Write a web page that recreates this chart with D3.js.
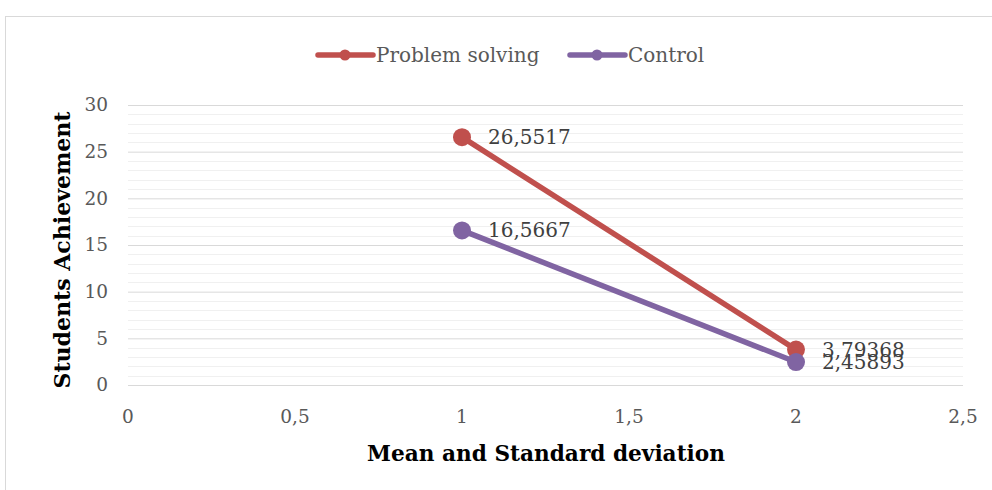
<!DOCTYPE html>
<html>
<head>
<meta charset="utf-8">
<script src="https://cdn.jsdelivr.net/npm/d3@7"></script>
<style>
  body { margin: 0; background: #fff; }
  svg text { font-family: "DejaVu Serif", serif; }
</style>
</head>
<body>
<div class="chart"></div>
<script>
const xValues = [1, 2];
const problemSolving = [26.5517, 3.79368];
const control = [16.5667, 2.45893];
const seriesNames = ['Problem solving', 'Control'];
const xTicks = [0, 0.5, 1, 1.5, 2, 2.5];
const yTicks = [0, 5, 10, 15, 20, 25, 30];

const w = 992;
const h = 490;
const padding = { top: 105, right: 29, bottom: 105, left: 128 };
const colors = ['#c0504d', '#8064a2'];
const fmt = (v) => String(v).replace('.', ',');

const xScale = d3.scaleLinear()
  .domain([0, 2.5])
  .range([padding.left, w - padding.right]);
const yScale = d3.scaleLinear()
  .domain([0, 30])
  .range([h - padding.bottom, padding.top]);

const svg = d3.select('.chart')
  .append('svg')
  .attr('width', w)
  .attr('height', h);

// chart border
svg.append('rect')
  .attr('x', 5.5)
  .attr('y', 16.5)
  .attr('width', 1000)
  .attr('height', 500)
  .attr('fill', 'none')
  .attr('stroke', '#d9d9d9');

// minor gridlines
svg.append('g')
  .selectAll('line')
  .data(d3.range(0, 31, 1).filter((d) => d % 5 !== 0))
  .enter()
  .append('line')
  .attr('x1', padding.left)
  .attr('x2', w - padding.right)
  .attr('y1', (d) => Math.round(yScale(d)) + 0.5)
  .attr('y2', (d) => Math.round(yScale(d)) + 0.5)
  .attr('stroke', '#f0f0f0');

// major gridlines
svg.append('g')
  .attr('transform', `translate(${padding.left}, 0)`)
  .call(d3.axisLeft(yScale).tickValues(yTicks).tickSize(-(w - padding.left - padding.right)).tickFormat(''))
  .call((g) => g.select('.domain').remove())
  .call((g) => g.selectAll('line').attr('stroke', '#d9d9d9'));

// y tick labels
svg.append('g')
  .selectAll('text')
  .data(yTicks)
  .enter()
  .append('text')
  .attr('x', 108)
  .attr('y', (d) => yScale(d))
  .attr('dy', '0.35em')
  .attr('text-anchor', 'end')
  .attr('font-size', 18.5)
  .attr('fill', '#595959')
  .text((d) => d);

// x tick labels
svg.append('g')
  .selectAll('text')
  .data(xTicks)
  .enter()
  .append('text')
  .attr('x', (d) => xScale(d))
  .attr('y', 423)
  .attr('text-anchor', 'middle')
  .attr('font-size', 18.5)
  .attr('fill', '#595959')
  .text(fmt);

// axis titles
svg.append('text')
  .attr('x', 546)
  .attr('y', 461)
  .attr('text-anchor', 'middle')
  .attr('font-size', 23)
  .attr('font-weight', 'bold')
  .attr('font-stretch', 'condensed')
  .attr('textLength', 358)
  .attr('lengthAdjust', 'spacingAndGlyphs')
  .attr('fill', '#000')
  .text('Mean and Standard deviation');

svg.append('text')
  .attr('transform', 'translate(70, 250) rotate(-90)')
  .attr('text-anchor', 'middle')
  .attr('font-size', 22)
  .attr('font-weight', 'bold')
  .attr('font-stretch', 'condensed')
  .attr('textLength', 277)
  .attr('lengthAdjust', 'spacingAndGlyphs')
  .attr('fill', '#000')
  .text('Students Achievement');

// series
const series = [problemSolving, control];
const line = d3.line()
  .x((d, i) => xScale(xValues[i]))
  .y((d) => yScale(d));

series.forEach((values, s) => {
  svg.append('path')
    .datum(values)
    .attr('d', line)
    .attr('fill', 'none')
    .attr('stroke', colors[s])
    .attr('stroke-width', 5.5)
    .attr('stroke-linecap', 'round');

  svg.append('g')
    .selectAll('circle')
    .data(values)
    .enter()
    .append('circle')
    .attr('cx', (d, i) => xScale(xValues[i]))
    .attr('cy', (d) => yScale(d))
    .attr('r', 9)
    .attr('fill', colors[s]);

  svg.append('g')
    .selectAll('text')
    .data(values)
    .enter()
    .append('text')
    .attr('x', (d, i) => xScale(xValues[i]) + 26)
    .attr('y', (d) => yScale(d))
    .attr('dy', '0.35em')
    .attr('font-size', 20)
    .attr('fill', '#404040')
    .text(fmt);
});

// legend
const legendX = [318, 570];
const legend = svg.append('g');
seriesNames.forEach((name, s) => {
  const x0 = legendX[s];
  legend.append('line')
    .attr('x1', x0)
    .attr('x2', x0 + 55)
    .attr('y1', 55)
    .attr('y2', 55)
    .attr('stroke', colors[s])
    .attr('stroke-width', 5.5)
    .attr('stroke-linecap', 'round');
  legend.append('circle')
    .attr('cx', x0 + 27)
    .attr('cy', 55)
    .attr('r', 5.5)
    .attr('fill', colors[s]);
  legend.append('text')
    .attr('x', x0 + 58)
    .attr('y', 55)
    .attr('dy', '0.35em')
    .attr('font-size', 20)
    .attr('fill', '#595959')
    .text(name);
});
</script>
</body>
</html>
